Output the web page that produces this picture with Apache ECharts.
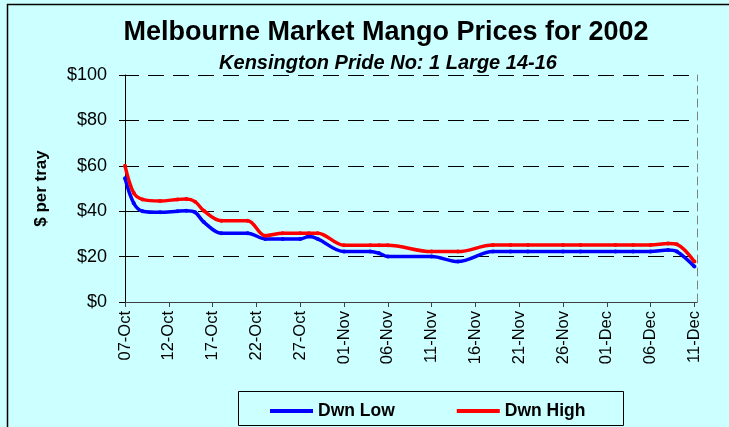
<!DOCTYPE html>
<html>
<head>
<meta charset="utf-8">
<script src="https://cdn.jsdelivr.net/npm/echarts@6/dist/echarts.min.js"></script>
<style>
html,body{margin:0;padding:0;background:#CCFFFF;}
#chart{width:729px;height:427px;}
</style>
</head>
<body>
<div id="chart"></div>
<script>
// ---- data ----
const titleText = 'Melbourne Market Mango Prices for 2002';
const subtitleText = 'Kensington Pride No: 1 Large 14-16';
const yAxisName = '$ per tray';
const seriesNames = ['Dwn Low', 'Dwn High'];
const dates = ['2002-10-07','2002-10-08','2002-10-09','2002-10-11','2002-10-13','2002-10-14','2002-10-15','2002-10-16','2002-10-18','2002-10-21','2002-10-23','2002-10-25','2002-10-27','2002-10-28','2002-10-29','2002-11-01','2002-11-04','2002-11-05','2002-11-06','2002-11-11','2002-11-14','2002-11-18','2002-11-20','2002-11-22','2002-11-26','2002-11-28','2002-12-02','2002-12-04','2002-12-06','2002-12-08','2002-12-09','2002-12-11'];
const lowValues = [54.5,43.5,40,39.5,40,40.2,39.5,35.2,30.3,30.3,27.8,27.8,27.8,28.8,27.8,22.2,22.2,21.5,20,20,17.8,22.2,22.2,22.2,22.2,22.2,22.2,22.2,22.2,22.9,22.2,15.6];
const highValues = [60,48,45.2,44.5,45.2,45.4,44.2,40.2,35.8,35.8,29.2,30.3,30.3,30.3,30.3,25,25,25,25,22.2,22.2,25.1,25.1,25.1,25.1,25.1,25.1,25.1,25.1,25.8,25.4,17.8];
const tickDates = ['2002-10-07','2002-10-12','2002-10-17','2002-10-22','2002-10-27','2002-11-01','2002-11-06','2002-11-11','2002-11-16','2002-11-21','2002-11-26','2002-12-01','2002-12-06','2002-12-11'];

// ---- helpers ----
const MONTHS = ['Jan','Feb','Mar','Apr','May','Jun','Jul','Aug','Sep','Oct','Nov','Dec'];
const base = Date.UTC(2002, 9, 7);
function dayOf(s){ const p = s.split('-').map(Number); return Math.round((Date.UTC(p[0], p[1]-1, p[2]) - base) / 86400000); }
function labelOf(d){ const dt = new Date(base + d * 86400000); return String(dt.getUTCDate()).padStart(2,'0') + '-' + MONTHS[dt.getUTCMonth()]; }
const tickDays = tickDates.map(dayOf);
const lowData = dates.map((d,i)=>[dayOf(d), lowValues[i]]);
const highData = dates.map((d,i)=>[dayOf(d), highValues[i]]);

const FONT = '"Liberation Sans", Arial, sans-serif';
const chart = echarts.init(document.getElementById('chart'), null, {renderer:'canvas'});
chart.setOption({
  backgroundColor: '#CCFFFF',
  animation: false,
  title: [
    {text: titleText, left: 381, top: 14, textAlign: 'center',
     textStyle: {fontFamily: FONT, fontSize: 27, fontWeight: 'bold', color: '#000'}},
    {text: subtitleText, left: 383, top: 48, textAlign: 'center',
     textStyle: {fontFamily: FONT, fontSize: 20, fontWeight: 'bold', fontStyle: 'italic', color: '#000'}}
  ],
  graphic: [
    {type: 'rect', left: 5, top: 2, shape: {width: 760, height: 460}, silent: true,
     style: {fill: 'none', stroke: '#000', lineWidth: 1.5}},
    {type: 'rect', left: 236, top: 389, shape: {width: 385, height: 34}, silent: true,
     style: {fill: 'none', stroke: '#000', lineWidth: 1}}
  ],
  legend: {
    left: 265, top: 397, itemGap: 62, itemWidth: 43, itemHeight: 4, icon: 'rect',
    textStyle: {fontFamily: FONT, fontSize: 17.5, fontWeight: 'bold', color: '#000'},
    data: seriesNames
  },
  grid: {left: 123, right: 32, top: 75, bottom: 125, containLabel: false},
  xAxis: {
    type: 'value', min: -0.23, max: 65.3,
    axisLine: {show: true, onZero: false, lineStyle: {color: '#404040', width: 1}},
    axisTick: {show: true, customValues: tickDays, length: 5, lineStyle: {color: '#404040'}},
    axisLabel: {customValues: tickDays, rotate: 90, margin: 9, formatter: v => labelOf(v),
      fontFamily: FONT, fontSize: 16.5, color: '#000'},
    splitLine: {show: false}
  },
  yAxis: [
    {type: 'value', min: 0, max: 100, interval: 20,
     name: yAxisName, nameLocation: 'middle', nameGap: 73, nameRotate: 90,
     nameTextStyle: {fontFamily: FONT, fontSize: 17, fontWeight: 'bold', color: '#000'},
     axisLine: {show: true, lineStyle: {color: '#000', width: 1}},
     axisTick: {show: true, length: 6, lineStyle: {color: '#000'}},
     axisLabel: {formatter: v => '$' + v, margin: 16, fontFamily: FONT, fontSize: 18, color: '#000'},
     splitLine: {show: true, lineStyle: {color: '#000', type: [16, 9], width: 1}}
    },
    {type: 'value', min: 0, max: 100, interval: 20, position: 'right',
     axisLine: {show: true, lineStyle: {color: '#808080', type: [8, 5], width: 1}},
     axisTick: {show: false}, axisLabel: {show: false}, splitLine: {show: false}
    }
  ],
  series: [
    {name: seriesNames[0], type: 'line', data: lowData, smooth: 0.35,
     symbol: 'circle', symbolSize: 4, showSymbol: true,
     lineStyle: {color: '#0000FF', width: 3.5}, itemStyle: {color: '#0000FF'}},
    {name: seriesNames[1], type: 'line', data: highData, smooth: 0.35,
     symbol: 'circle', symbolSize: 4, showSymbol: true,
     lineStyle: {color: '#FF0000', width: 3.5}, itemStyle: {color: '#FF0000'}}
  ]
});
</script>
</body>
</html>
